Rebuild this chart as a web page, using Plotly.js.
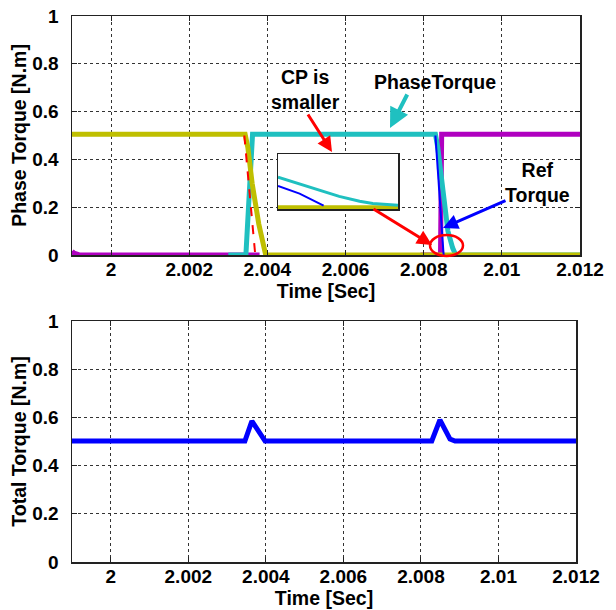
<!DOCTYPE html>
<html>
<head>
<meta charset="utf-8">
<script src="https://cdn.plot.ly/plotly-3.0.1.min.js"></script>
<style>html,body{margin:0;padding:0;background:#fff;}#chart{width:616px;height:610px;}</style>
</head>
<body>
<div id="chart"></div>
<script>
// ---- data ----
var xTickVals = [2, 2.002, 2.004, 2.006, 2.008, 2.01, 2.012];
var xTickText = ["2", "2.002", "2.004", "2.006", "2.008", "2.01", "2.012"];
var yTickVals = [0, 0.2, 0.4, 0.6, 0.8, 1];
var yTickText = ["0", "0.2", "0.4", "0.6", "0.8", "1"];

// Phase A (yellow)
var phaseA_t = [1.999, 2.00343, 2.00350, 2.00361, 2.00378, 2.00388, 2.00395, 2.0040, 2.012];
var phaseA_y = [0.505, 0.505, 0.45, 0.30, 0.13, 0.04, 0.005, 0.0, 0.0];
// Phase B (cyan)
var phaseB_t = [2.0030, 2.00345, 2.00362, 2.00830, 2.00836, 2.00851, 2.00862, 2.00874, 2.00882, 2.012];
var phaseB_y = [0.0, 0.0, 0.505, 0.505, 0.45, 0.22, 0.10, 0.03, 0.0, 0.0];
// Phase C (magenta), two visible pieces
var phaseC1_t = [1.999, 1.99905, 1.99915, 1.9992, 2.0038];
var phaseC1_y = [0.016, 0.008, 0.003, 0.0, 0.0];
var phaseC2_t = [2.00792, 2.00843, 2.00846, 2.012];
var phaseC2_y = [0.0, 0.0, 0.505, 0.505];
// Reference torques
var refA_t = [2.00341, 2.00369];
var refA_y = [0.5, 0.0];
var refB_t = [2.00830, 2.00851];
var refB_y = [0.5, 0.0];

// Inset (zoom of the circled region)
var insetB_t = [2.008500, 2.008554, 2.008602, 2.008653, 2.008704, 2.008737, 2.008800];
var insetB_y = [0.0290, 0.0230, 0.0170, 0.0115, 0.0070, 0.0050, 0.0035];
var insetRef_t = [2.008500, 2.008554, 2.008614];
var insetRef_y = [0.0210, 0.0140, 0.0030];
var insetA_t = [2.008500, 2.008800];
var insetA_y = [0.0015, 0.0015];

// Total torque (blue)
var total_t = [1.999, 2.00346, 2.00364, 2.00393, 2.00398, 2.00828, 2.00849, 2.00875, 2.00888, 2.012];
var total_y = [0.502, 0.502, 0.585, 0.51, 0.502, 0.502, 0.59, 0.51, 0.502, 0.502];

// ---- colours / geometry ----
var cYellow = "#bfbf00", cCyan = "#1fc0c0", cMag = "#b000c0";
var L = 72, R = 36, T = 16, B = 48, W = 616 - L - R, H = 610 - T - B;
function px(x) { return (x - L) / W; }
function py(y) { return (610 - B - y) / H; }

var fontFam = "Arial, 'Liberation Sans', sans-serif";
var tickFont = {family: fontFam, size: 19, color: "#000", weight: "bold"};
var titleFont = {family: fontFam, size: 19.5, color: "#000", weight: "bold"};

function line(x, y, color, width, xa, ya, dash) {
  return {x: x, y: y, xaxis: xa, yaxis: ya, type: "scatter", mode: "lines",
          line: {color: color, width: width, dash: dash || "solid"}, hoverinfo: "skip"};
}

var traces = [
  line(phaseC1_t, phaseC1_y, cMag, 5, "x", "y"),
  line(phaseC2_t, phaseC2_y, cMag, 5, "x", "y"),
  line(phaseB_t, phaseB_y, cCyan, 5, "x", "y"),
  line(phaseA_t, phaseA_y, cYellow, 5, "x", "y"),
  line(refA_t, refA_y, "#ff0000", 2, "x", "y", "dash"),
  line(refB_t, refB_y, "#0000ff", 2, "x", "y"),
  line(insetA_t, insetA_y, cYellow, 4, "x3", "y3"),
  line(insetB_t, insetB_y, cCyan, 3, "x3", "y3"),
  line(insetRef_t, insetRef_y, "#0000ff", 2, "x3", "y3"),
  line(total_t, total_y, "#0000ff", 5, "x2", "y2")
];

function xAx(domain, anchor) {
  return {domain: domain, anchor: anchor, range: [1.999, 2.012], tickmode: "array",
    tickvals: xTickVals, ticktext: xTickText, tickfont: tickFont,
    showgrid: true, gridcolor: "#333", griddash: "dot", gridwidth: 1,
    showline: true, linecolor: "#222", linewidth: 1.5, mirror: "ticks",
    ticks: "inside", ticklen: 5, tickcolor: "#222", zeroline: false, ticklabelstandoff: -3,
    title: {text: "Time [Sec]", font: titleFont, standoff: 4}};
}
function yAx(domain, anchor, title) {
  return {domain: domain, anchor: anchor, range: [0, 1], tickmode: "array",
    tickvals: yTickVals, ticktext: yTickText, tickfont: tickFont,
    showgrid: true, gridcolor: "#333", griddash: "dot", gridwidth: 1,
    showline: true, linecolor: "#222", linewidth: 1.5, mirror: "ticks",
    ticks: "inside", ticklen: 5, tickcolor: "#222", zeroline: false, ticklabelstandoff: 8,
    title: {text: title, font: titleFont, standoff: 0}};
}

function arrow(hx, hy, tx, ty, color, width, size) {
  return {xref: "paper", yref: "paper", x: px(hx), y: py(hy), ax: tx - hx, ay: ty - hy,
    text: "", showarrow: true, arrowhead: 2, arrowsize: size, arrowwidth: width, arrowcolor: color};
}
function label(cx, cy, txt) {
  return {xref: "paper", yref: "paper", x: px(cx), y: py(cy), xanchor: "center", yanchor: "middle",
    text: txt, showarrow: false, font: {family: fontFam, size: 19.5, color: "#000", weight: "bold"}};
}

var layout = {
  width: 616, height: 610,
  margin: {l: L, r: R, t: T, b: B},
  paper_bgcolor: "#fff", plot_bgcolor: "#fff",
  showlegend: false,
  xaxis: xAx([0, 1], "y"),
  yaxis: yAx([py(255), 1], "x", "Phase Torque [N.m]"),
  xaxis2: xAx([0, px(576)], "y2"),
  yaxis2: yAx([0, py(321)], "x2", "Total Torque [N.m]"),
  xaxis3: {domain: [px(278), px(398)], anchor: "y3", range: [2.0085, 2.0088], showgrid: false,
    showticklabels: false, ticks: "", showline: true, linecolor: "#222", linewidth: 1.5, mirror: true, zeroline: false},
  yaxis3: {domain: [py(209), py(154)], anchor: "x3", range: [0, 0.05], showgrid: false,
    showticklabels: false, ticks: "", showline: true, linecolor: "#222", linewidth: 1.5, mirror: true, zeroline: false},
  annotations: [
    label(305, 90, "CP is<br>smaller"),
    label(435, 82, "PhaseTorque"),
    label(537, 182, "Ref<br>Torque"),
    arrow(332, 152, 307, 113, "#ff0000", 3, 1),
    arrow(390, 128, 408, 93, cCyan, 4, 1),
    arrow(443, 228, 507, 200, "#0000ff", 3, 1),
    arrow(432, 245, 372, 208, "#ff0000", 3, 1)
  ],
  shapes: [
    {type: "circle", xref: "paper", yref: "paper", x0: px(430), x1: px(463), y0: py(256), y1: py(235),
     line: {color: "#ff0000", width: 2.5}}
  ]
};

Plotly.newPlot("chart", traces, layout, {staticPlot: true, displayModeBar: false});
</script>
</body>
</html>
